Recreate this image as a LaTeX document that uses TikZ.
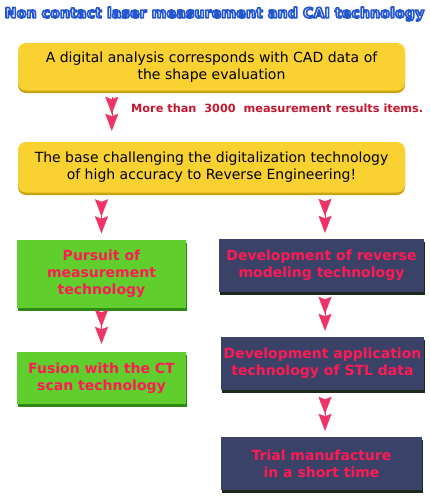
\documentclass[tikz,border=0pt]{standalone}
\usepackage{fontspec}
\setmainfont{DejaVu Sans}
\usepackage{xcolor}
\usetikzlibrary{positioning, arrows.meta, shadows}

\definecolor{titleblue}{HTML}{2456D0}
\definecolor{titlefill}{HTML}{EEF4FF}
\definecolor{boxyellow}{HTML}{F9D232}
\definecolor{yellowedge}{HTML}{C9A412}
\definecolor{boxgreen}{HTML}{60CE2C}
\definecolor{greenedge}{HTML}{2E8A14}
\definecolor{boxnavy}{HTML}{3A4268}
\definecolor{navyedge}{HTML}{1C2A1E}
\definecolor{boxred}{HTML}{FF1A55}
\definecolor{arrowpink}{HTML}{EE3366}
\definecolor{notered}{HTML}{C8152E}

% outlined title text (stroke + fill)
\newcommand{\outlinetext}[1]{%
  \special{pdf:literal direct 2 Tr 1.6 w 1 J 1 j 0.141 0.337 0.816 RG}#1\special{pdf:literal direct 0 Tr}}

\begin{document}
\begin{tikzpicture}[x=1pt, y=-1pt,
    yellowbox/.style={rectangle, rounded corners=8pt, fill=boxyellow, inner sep=0pt, align=center,
        drop shadow={shadow xshift=0pt, shadow yshift=-2.5pt, fill=yellowedge, opacity=1},
        font=\fontsize{14}{17}\selectfont, text=black},
    greenbox/.style={rectangle, fill=boxgreen, inner sep=0pt, align=center,
        drop shadow={shadow xshift=1pt, shadow yshift=-3pt, fill=greenedge, opacity=1},
        font=\fontsize{14}{17}\selectfont\bfseries, text=boxred},
    navybox/.style={rectangle, fill=boxnavy, inner sep=0pt, align=center,
        drop shadow={shadow xshift=1pt, shadow yshift=-3pt, fill=navyedge, opacity=1},
        font=\fontsize{14}{17}\selectfont\bfseries, text=boxred},
    chev/.style={-{Stealth[length=17pt, width=13pt, inset=2.5pt] Stealth[length=17pt, width=13pt, inset=2.5pt]},
        draw=arrowpink, line width=0.2pt}
]
\useasboundingbox (0,0) rectangle (429,501);

% title
\node[font=\fontsize{14.3}{16}\selectfont\bfseries, text=titlefill] (title) at (214.5,14)
    {\outlinetext{Non contact laser measurement and CAI technology}};

% yellow boxes
\node[yellowbox, minimum width=387pt, minimum height=47.5pt] (analysis) at (211.5,66.75)
    {A digital analysis corresponds with CAD data of\\the shape evaluation};
\node[yellowbox, minimum width=387pt, minimum height=50.5pt] (base) at (211.5,167.25)
    {The base challenging the digitalization technology\\of high accuracy to Reverse Engineering!};

\node[anchor=west, inner sep=0pt, font=\fontsize{11.3}{13}\selectfont\bfseries, text=notered] (items) at (131,108)
    {More than\ \ 3000\ \ measurement results items.};

% left column
\node[greenbox, minimum width=169pt, minimum height=68pt] (pursuit) at (101.5,273.5)
    {Pursuit of\\measurement\\technology};
\node[greenbox, minimum width=169pt, minimum height=52pt] (fusion) at (101.5,378)
    {Fusion with the CT\\scan technology};

% right column
\node[navybox, minimum width=205pt, minimum height=53pt] (reverse) at (321.5,265.5)
    {Development of reverse\\modeling technology};
\node[navybox, minimum width=203pt, minimum height=53pt] (stl) at (322.5,363.5)
    {Development application\\technology of STL data};
\node[navybox, minimum width=201pt, minimum height=53pt] (trial) at (321.5,463.5)
    {Trial manufacture\\in a short time};

% chevrons
\draw[chev, shorten <=6.5pt, shorten >=11pt] ([xshift=94pt]analysis.south west) -- ([xshift=94pt]base.north west);
\draw[chev, shorten <=11pt, shorten >=6pt] (pursuit.north |- base.south) -- (pursuit.north);
\draw[chev, shorten <=11pt, shorten >=6pt] ([xshift=3.5pt]reverse.north |- base.south) -- ([xshift=3.5pt]reverse.north);
\draw[chev, shorten <=8pt, shorten >=8pt] (pursuit.south) -- (fusion.north);
\draw[chev, shorten <=9pt, shorten >=6pt] ([xshift=3.5pt]reverse.south) -- ([xshift=3.5pt]reverse.south |- stl.north);
\draw[chev, shorten <=10pt, shorten >=6pt] ([xshift=2.5pt]stl.south) -- ([xshift=2.5pt]stl.south |- trial.north);

\end{tikzpicture}
\end{document}
